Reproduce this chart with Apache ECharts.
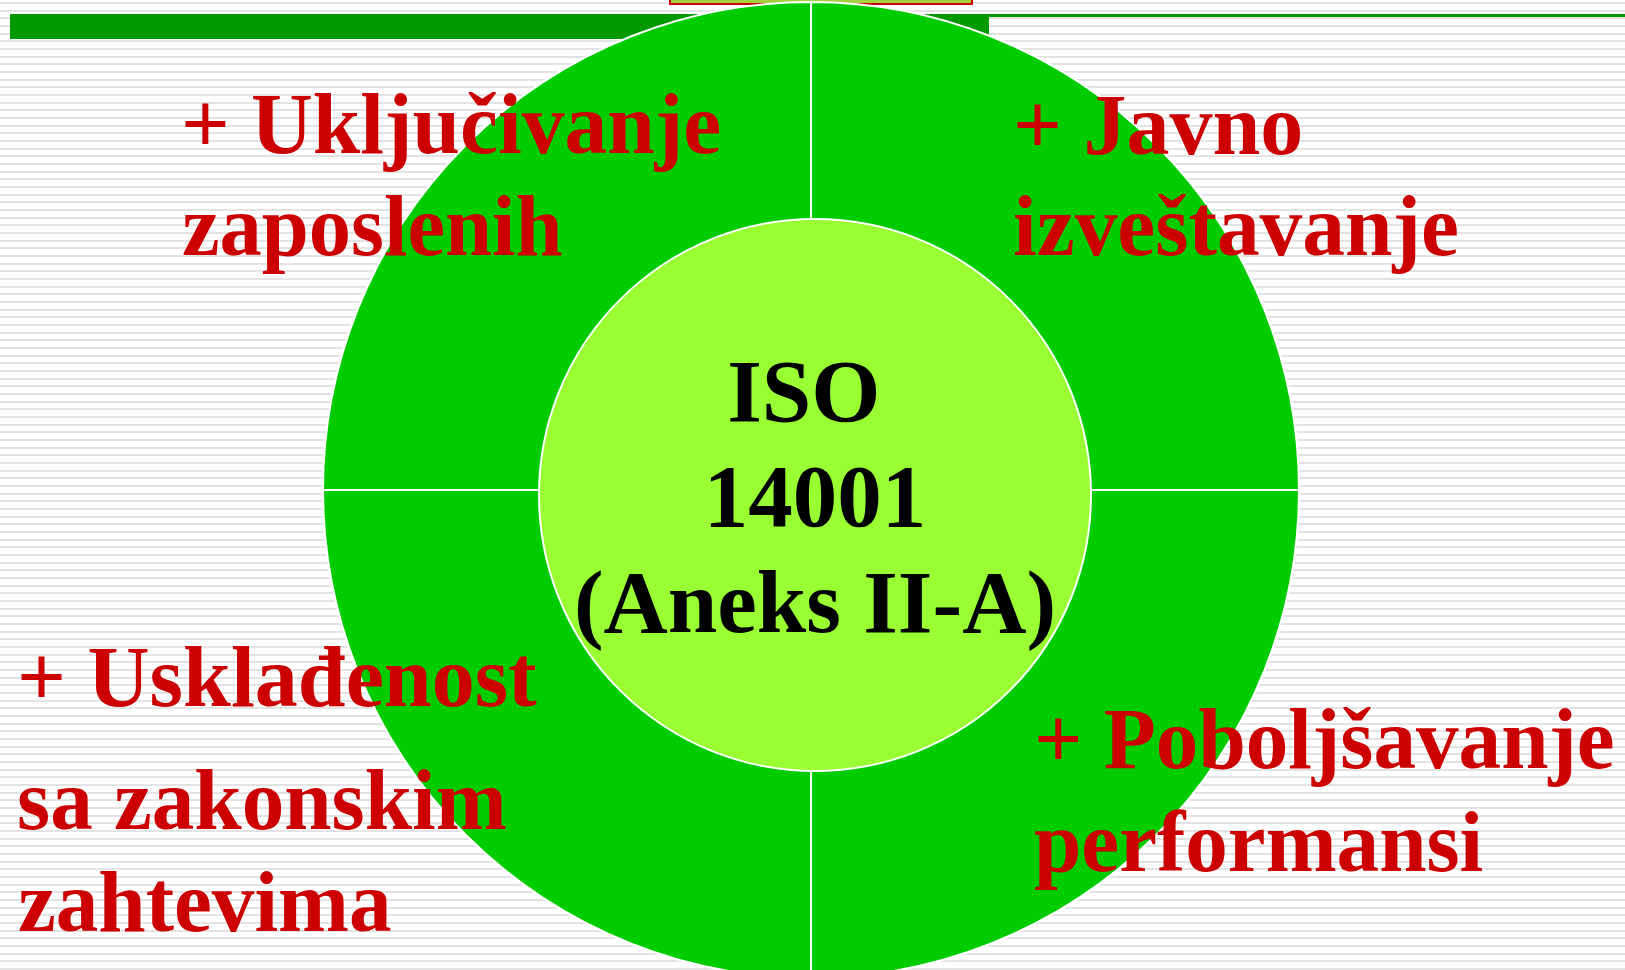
<!DOCTYPE html>
<html>
<head>
<meta charset="utf-8">
<title>ISO 14001 - EMAS</title>
<script src="https://cdn.jsdelivr.net/npm/echarts@6/dist/echarts.min.js"></script>
<style>
  html, body { margin: 0; padding: 0; }
  #chart {
    width: 1625px;
    height: 970px;
    background-color: #ffffff;
    /* prugasta pozadina slajda */
    background-image: repeating-linear-gradient(to bottom,
      transparent 0px, transparent 2px,
      #e3e3e3 2px, #e3e3e3 4px,
      transparent 4px, transparent 7.667px);
  }
</style>
</head>
<body>
<div id="chart"></div>
<script>
// dodaci koje EMAS uvodi u odnosu na ISO 14001 (redosled: gore desno, dole desno, dole levo, gore levo)
const dodaci = [
  ['+ Javno', 'izveštavanje'],
  ['+ Poboljšavanje', 'performansi'],
  ['+ Usklađenost', 'sa zakonskim', 'zahtevima'],
  ['+ Uključivanje', 'zaposlenih']
];
const udeli = [1, 1, 1, 1];
const centar = ['ISO ', '14001', '(Aneks II-A)'];

// raspored natpisa (osnovne linije)
const natpisi = [
  { x: [1013, 1013], y: [158, 259], sx: [1.0, 0.993] },
  { x: [1034, 1034], y: [772, 875], sx: [0.99, 0.99] },
  { x: [17, 17, 18], y: [710, 833, 935], sx: [1.0, 0.99, 0.99] },
  { x: [181, 182], y: [157, 259], sx: [0.994, 0.983] }
];
const centarY = [426, 531, 637];

const FONT = '"Liberation Serif", "Times New Roman", serif';
const mid = 0.31; // pomeraj od sredine do osnovne linije (u em)

let myChart = echarts.init(document.getElementById('chart'));

let option = {
  animation: false,
  backgroundColor: 'transparent',
  series: [
    {
      // spoljasnji prsten, cetiri jednaka dela
      type: 'pie',
      center: [811, 490],
      radius: [0, 488],
      startAngle: 90,
      clockwise: true,
      silent: true,
      label: { show: false },
      labelLine: { show: false },
      itemStyle: { color: '#00cc00', borderColor: '#ffffff', borderWidth: 2 },
      data: dodaci.map(function (linije, i) {
        return { name: linije.join(' '), value: udeli[i] };
      })
    },
    {
      // unutrasnji krug
      type: 'pie',
      center: [815, 495],
      radius: [0, 276],
      silent: true,
      label: { show: false },
      labelLine: { show: false },
      itemStyle: { color: '#99ff33', borderColor: '#ffffff', borderWidth: 2 },
      data: [{ name: centar.join(' '), value: 1 }]
    }
  ],
  graphic: []
};

// zelena traka na vrhu i okvir naslova
option.graphic.push(
  { type: 'rect', z: 0, shape: { x: 10, y: 14, width: 979, height: 25 }, style: { fill: '#009900' } },
  { type: 'rect', z: 0, shape: { x: 989, y: 14, width: 636, height: 3 }, style: { fill: '#009900' } },
  { type: 'rect', z: 0, shape: { x: 670, y: -10, width: 302, height: 14 }, style: { fill: '#a5d23c', stroke: '#cc0000', lineWidth: 2 } }
);

dodaci.forEach(function (linije, i) {
  let n = natpisi[i];
  linije.forEach(function (t, j) {
    option.graphic.push({
      type: 'text',
      z: 10,
      x: n.x[j],
      y: n.y[j] - mid * 86,
      scaleX: n.sx[j],
      style: {
        text: t,
        fill: '#cc0000',
        font: 'bold 86px ' + FONT,
        textAlign: 'left',
        textVerticalAlign: 'middle'
      }
    });
  });
});

centar.forEach(function (t, j) {
  option.graphic.push({
    type: 'text',
    z: 10,
    x: 815,
    y: centarY[j] - mid * 89,
    style: {
      text: t,
      fill: '#000000',
      font: 'bold 89px ' + FONT,
      textAlign: 'center',
      textVerticalAlign: 'middle'
    }
  });
});

myChart.setOption(option);
</script>
</body>
</html>
